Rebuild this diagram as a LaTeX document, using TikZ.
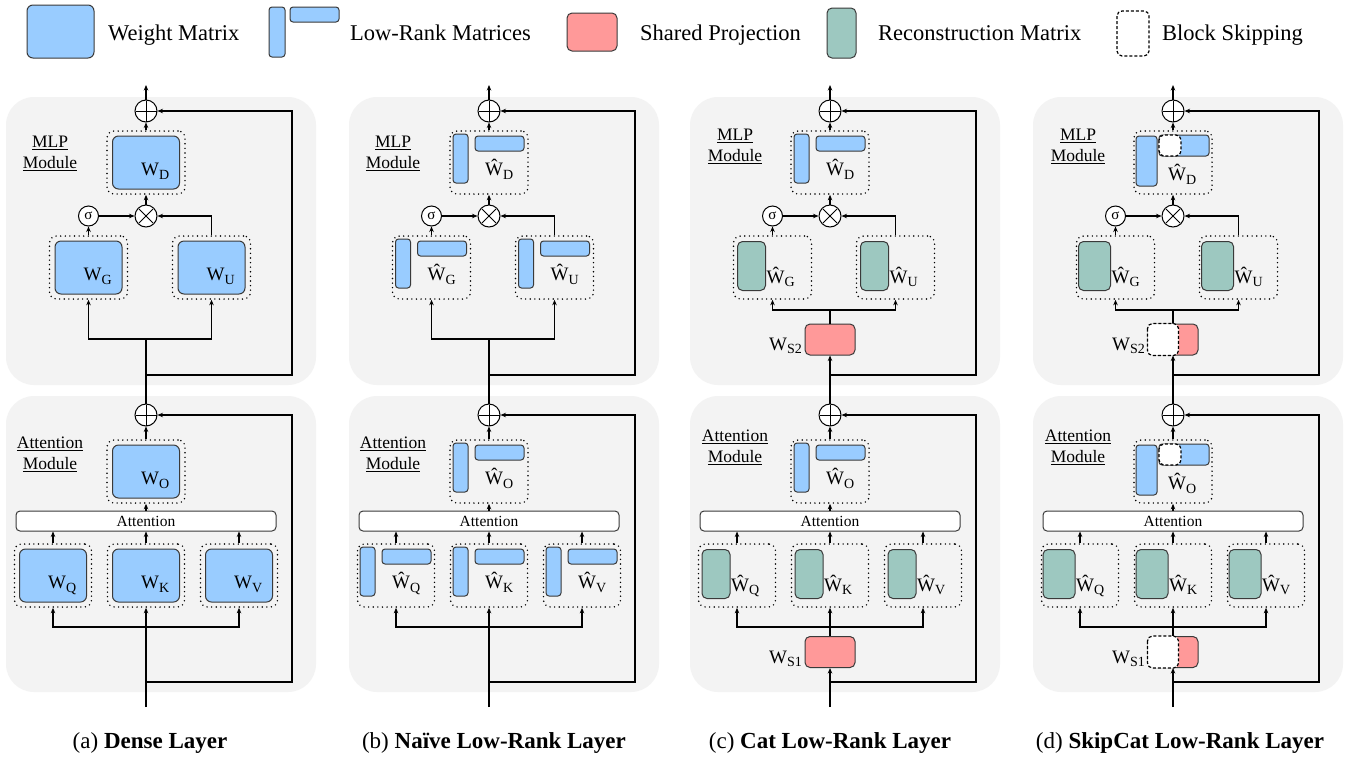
\documentclass[tikz,border=0pt]{standalone}
\usepackage{fontspec}
\setmainfont{Liberation Serif}
\usetikzlibrary{arrows.meta,calc}
\definecolor{bgc}{HTML}{F3F3F3}
\definecolor{wblue}{HTML}{99CCFF}
\definecolor{spink}{HTML}{FF9999}
\definecolor{rteal}{HTML}{9DC8C0}
\definecolor{edgec}{HTML}{3A3A3A}
\newcommand\Wsub[2]{#1{\fontsize{14}{14}\selectfont\raisebox{-3.8pt}{#2}}}
\tikzset{
  ln/.style={line width=1.4pt},
  trunk/.style={line width=1.8pt},
  arr/.style={line width=1.4pt,-{Stealth[length=5.5pt,width=4.5pt]}},
  fbox/.style={draw=black, line width=1.6pt, dash pattern=on 0pt off 4.6pt, line cap=round, rounded corners=7pt, minimum width=78pt, minimum height=63pt, inner sep=0pt},
  opc/.style={circle, draw=black, line width=1pt, fill=white, minimum size=22pt, inner sep=0pt},
  sigc/.style={circle, draw=black, line width=1pt, fill=white, minimum size=20pt, inner sep=0pt, font=\fontsize{15}{15}\selectfont},
  wbox/.style={draw=edgec, line width=1pt, fill=wblue, rounded corners=6pt},
  lrbox/.style={draw=edgec, line width=1pt, fill=wblue, rounded corners=3pt},
  tbox/.style={draw=edgec, line width=1pt, fill=rteal, rounded corners=5pt},
  pbox/.style={draw=edgec, line width=1pt, fill=spink, rounded corners=5pt, inner sep=0pt, minimum width=50pt, minimum height=31pt},
  skipbox/.style={draw=black, line width=1.2pt, dash pattern=on 3pt off 2pt, fill=white, rounded corners=5pt},
  wlab/.style={inner sep=0pt, font=\fontsize{19}{19}\selectfont},
  modlab/.style={align=center, inner sep=0pt, font=\fontsize{17.5}{21.5}\selectfont},
  attbar/.style={draw=edgec, line width=1pt, fill=white, rounded corners=4pt, minimum width=260pt, minimum height=20pt, inner sep=0pt, font=\fontsize{15.5}{15.5}\selectfont},
  legtxt/.style={anchor=base west, inner sep=0pt, font=\fontsize{22.5}{22.5}\selectfont},
  captxt/.style={anchor=base, inner sep=0pt, font=\fontsize{23}{23}\selectfont},
}
\newcommand\DenseIn[2]{%
 \begin{scope}[shift={(#1.center)}]
  \draw[wbox] (-33.5,-26.5) rectangle (33.5,26.5);
  \node[wlab, anchor=base west] (#1-lab) at (-5,13) {\Wsub{W}{#2}};
 \end{scope}}
\newcommand\LowIn[2]{%
 \begin{scope}[shift={(#1.center)}]
  \draw[lrbox] (-36,-28.5) rectangle (-21,20.5);
  \draw[lrbox] (-14,-26.5) rectangle (35,-11.5);
  \node[wlab, anchor=base west] (#1-lab) at (-4,13) {\Wsub{Ŵ}{#2}};
 \end{scope}}
\newcommand\SkipLowIn[2]{%
 \begin{scope}[shift={(#1.center)}]
  \draw[lrbox] (-37,-26.5) rectangle (-16,23.5);
  \draw[lrbox] (-14,-27.5) rectangle (36,-6.5);
  \draw[skipbox] (-14,-27.5) rectangle (8,-6.5);
  \node[wlab, anchor=base west] (#1-lab) at (-5,18) {\Wsub{Ŵ}{#2}};
 \end{scope}}
\newcommand\TealIn[4]{%
 \begin{scope}[shift={(#1.center)}]
  \draw[tbox] (#3,-26) rectangle (#4,23);
  \node[wlab, anchor=base west] (#1-lab) at ($(#4,15.5)+(1,0)$) {\Wsub{Ŵ}{#2}};
 \end{scope}}
\begin{document}
\begin{tikzpicture}[x=1pt,y=-1pt]
\useasboundingbox (0,0) rectangle (1348,756);
\fill[white] (0,0) rectangle (1348,756);
% legend
\draw[wbox] (27,5) rectangle (94,58);
\node[legtxt] (lg1) at (108,40) {Weight Matrix};
\draw[lrbox] (269,7) rectangle (285,57);
\draw[lrbox] (290,7) rectangle (339,22);
\node[legtxt] (lg2) at (350,40) {Low-Rank Matrices};
\draw[pbox] (567,13) rectangle (617,51);
\node[legtxt] (lg3) at (640,40) {Shared Projection};
\draw[tbox] (827,8) rectangle (856,58);
\node[legtxt] (lg4) at (878,40) {Reconstruction Matrix};
\draw[skipbox] (1117,11) rectangle (1149,56);
\node[legtxt] (lg5) at (1162,40) {Block Skipping};
% panels
\foreach \p/\X/\ty in {a/146/0,b/489/1,c/830/2,d/1173/3}{
\begin{scope}[xshift=\X pt]
 \fill[bgc, rounded corners=28pt] (-140,97) rectangle (170,385);
 \fill[bgc, rounded corners=28pt] (-140,396) rectangle (170,692);
 % MLP
 \node[opc] (\p-plus2) at (0,111) {};
 \coordinate (\p-out) at (0,85);
 \node[fbox] (\p-D) at (0,162.5) {};
 \node[opc] (\p-x) at (0,216) {};
 \node[sigc] (\p-sig) at (-57.5,216) {σ};
 \node[fbox] (\p-G) at (-57.5,267.5) {};
 \node[fbox] (\p-U) at (65.5,267.5) {};
 \coordinate (\p-j2) at (0,375);
 \coordinate (\p-c2) at (146,375);
 % Attention
 \node[opc] (\p-plus1) at (0,415) {};
 \node[fbox] (\p-O) at (0,471.5) {};
 \node[attbar] (\p-att) at (0,521) {Attention};
 \node[fbox,minimum width=77pt] (\p-Q) at (-93,575.5) {};
 \node[fbox,minimum width=77pt] (\p-K) at (0,575.5) {};
 \node[fbox,minimum width=77pt] (\p-V) at (93,575.5) {};
 \coordinate (\p-s1) at (0,627);
 \coordinate (\p-j1) at (0,682);
 \coordinate (\p-c1) at (146,682);
 \coordinate (\p-in) at (0,707);
 \draw[line width=1pt,shorten >=1pt,shorten <=1pt] (\p-plus2.north) -- (\p-plus2.south);
 \draw[line width=1pt,shorten >=1pt,shorten <=1pt] (\p-plus2.west) -- (\p-plus2.east);
 \draw[line width=1pt,shorten >=1pt,shorten <=1pt] (\p-plus1.north) -- (\p-plus1.south);
 \draw[line width=1pt,shorten >=1pt,shorten <=1pt] (\p-plus1.west) -- (\p-plus1.east);
 \draw[line width=1pt,shorten >=1.5pt,shorten <=1.5pt] (\p-x.north west) -- (\p-x.south east);
 \draw[line width=1pt,shorten >=1.5pt,shorten <=1.5pt] (\p-x.north east) -- (\p-x.south west);
 % MLP connectors
 \draw[arr] (\p-plus2.north) -- (\p-out);
 \draw[arr] (\p-j2) -- (\p-c2) |- (\p-plus2.east);
 \draw[arr] (\p-D.north) -- (\p-plus2.south);
 \draw[arr] (\p-x.north) -- (\p-D.south);
 \draw[arr] (\p-sig.east) -- (\p-x.west);
 \draw[arr] (\p-G.north) -- (\p-sig.south);
 \draw[arr] (\p-U.north) |- (\p-x.east);
 % Attention connectors
 \draw[arr] (\p-j1) -- (\p-c1) |- (\p-plus1.east);
 \draw[arr] (\p-O.north) -- (\p-plus1.south);
 \draw[arr] (\p-att.north) -- (\p-O.south);
 \draw[arr] (\p-Q.north) -- (\p-Q.north |- \p-att.south);
 \draw[arr] (\p-K.north) -- (\p-att.south);
 \draw[arr] (\p-V.north) -- (\p-V.north |- \p-att.south);
 \draw[arr] (\p-s1) -| (\p-Q.south);
 \draw[arr] (\p-s1) -| (\p-V.south);
 \ifnum\ty<2
   \coordinate (\p-s2) at (0,339);
   \node[modlab] (\p-ml) at (-96,153.5) {\underline{MLP}\\\underline{Module}};
   \node[modlab] (\p-al) at (-96,454.5) {\underline{Attention}\\\underline{Module}};
   \draw[trunk] (\p-plus1.north) -- (\p-s2);
   \draw[arr,trunk] (\p-in) -- (\p-K.south);
 \else
   \coordinate (\p-s2) at (0,310);
   \node[modlab] (\p-ml) at (-95,146.5) {\underline{MLP}\\\underline{Module}};
   \node[modlab] (\p-al) at (-95,447.5) {\underline{Attention}\\\underline{Module}};
   \node[pbox] (\p-S2) at (0,339.5) {};
   \node[pbox] (\p-S1) at (0,652) {};
   \node[wlab, anchor=base east] (\p-S2l) at (-28,350) {\Wsub{W}{S2}};
   \node[wlab, anchor=base east] (\p-S1l) at (-28,663) {\Wsub{W}{S1}};
   \draw[arr,trunk] (\p-plus1.north) -- (\p-S2.south);
   \draw[trunk] (\p-S2.north) -- (\p-s2);
   \draw[arr,trunk] (\p-in) -- (\p-S1.south);
   \draw[arr,trunk] (\p-S1.north) -- (\p-K.south);
 \fi
 \draw[arr] (\p-s2) -| (\p-G.south);
 \draw[arr] (\p-s2) -| (\p-U.south);
\end{scope}
}
% contents
\foreach \f/\s in {a-D/D,a-G/G,a-U/U,a-O/O,a-Q/Q,a-K/K,a-V/V}{\DenseIn{\f}{\s}}
\foreach \f/\s in {b-D/D,b-G/G,b-U/U,b-O/O,b-Q/Q,b-K/K,b-V/V}{\LowIn{\f}{\s}}
\foreach \f/\s in {c-D/D,c-O/O}{\LowIn{\f}{\s}}
\foreach \f/\s in {c-G/G,c-U/U,c-Q/Q,c-K/K,c-V/V}{\TealIn{\f}{\s}{-35}{-7}}
\foreach \f/\s in {d-D/D,d-O/O}{\SkipLowIn{\f}{\s}}
\foreach \f/\s in {d-G/G,d-U/U,d-Q/Q,d-K/K,d-V/V}{\TealIn{\f}{\s}{-37}{-5}}
\draw[skipbox] (d-S2.north west) rectangle ($(d-S2.south west)+(31,0)$);
\draw[skipbox] (d-S1.north west) rectangle ($(d-S1.south west)+(31,0)$);
% captions
\node[captxt] (capa) at (150,748) {(a) \textbf{Dense Layer}};
\node[captxt] (capb) at (494,748) {(b) \textbf{Naïve Low-Rank Layer}};
\node[captxt] (capc) at (830,748) {(c) \textbf{Cat Low-Rank Layer}};
\node[captxt] (capd) at (1180,748) {(d) \textbf{SkipCat Low-Rank Layer}};
\end{tikzpicture}
\end{document}
